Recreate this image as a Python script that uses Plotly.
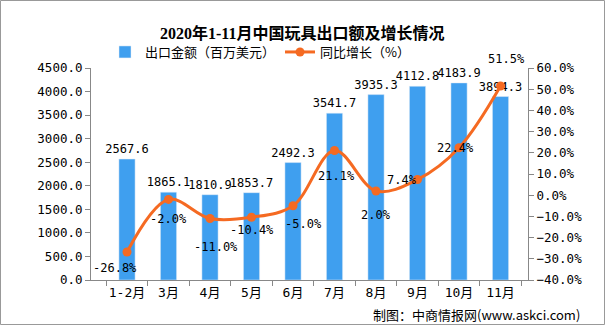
import plotly.graph_objects as go

months = ["1-2月", "3月", "4月", "5月", "6月", "7月", "8月", "9月", "10月", "11月"]
export_value = [2567.6, 1865.1, 1810.9, 1853.7, 2492.3, 3541.7, 3935.3, 4112.8, 4183.9, 3894.3]
growth = [-26.8, -2.0, -11.0, -10.4, -5.0, 21.1, 2.0, 7.4, 22.4, 51.5]
# label offsets (pixels) for the growth labels
label_dx = [-12, 0, 6, 0, 10, 2, 0, -16, -4, 6]
label_dy = [-16, -20, -28, -13, -18, -26, -24, 0, 0, 27]

BLUE = "#3F9FEF"
ORANGE = "#F56A22"
FONT = "DejaVu Sans Mono, Noto Sans CJK SC"

L, R, T, B = 91, 77, 68, 45
PW, PH = 605 - L - R, 325 - T - B

def px(x):
    return (x - L) / PW

def py(y):
    return (325 - B - y) / PH

fig = go.Figure()
fig.add_trace(go.Bar(
    x=months, y=export_value, name="出口金额（百万美元）",
    marker_color=BLUE, width=0.39,
    text=[f"{v:.1f}" for v in export_value], textposition="outside", constraintext="none",
    textfont=dict(size=12, color="#000", family=FONT), cliponaxis=False,
))
fig.add_trace(go.Scatter(
    x=months, y=growth, name="同比增长（%）", yaxis="y2",
    mode="lines+markers", line=dict(color=ORANGE, width=3, shape="spline", smoothing=1.0),
    marker=dict(color=ORANGE, size=9), cliponaxis=False,
))

for m, g, dx, dy in zip(months, growth, label_dx, label_dy):
    fig.add_annotation(x=m, y=g, xref="x", yref="y2", text=f"{g:.1f}%", showarrow=False,
                       xshift=dx, yshift=dy, font=dict(size=12, color="#000", family=FONT))

fig.add_annotation(x=px(302), y=py(22), xref="paper", yref="paper", showarrow=False,
                   text="<b>2020年1-11月中国玩具出口额及增长情况</b>",
                   font=dict(size=16, color="#000", family="Liberation Serif, Noto Sans CJK SC"))
fig.add_annotation(x=px(582), y=py(314), xref="paper", yref="paper", showarrow=False,
                   xanchor="right", yanchor="middle", text="制图：中商情报网(www.askci.com)",
                   font=dict(size=13, family="Noto Sans CJK SC", color="#000"))

fig.update_layout(
    width=605, height=325,
    margin=dict(l=L, r=R, t=T, b=B),
    paper_bgcolor="white", plot_bgcolor="white",
    showlegend=True,
    legend=dict(orientation="h", x=px(260), xanchor="center", y=py(52), yanchor="middle",
                font=dict(size=13, family="Noto Sans CJK SC", color="#000"),
                bgcolor="rgba(0,0,0,0)"),
    xaxis=dict(showline=True, linecolor="#888", linewidth=1, ticks="outside", tickson="boundaries",
               ticklen=5, tickcolor="#888", showgrid=False, tickangle=0,
               tickfont=dict(size=13, family=FONT, color="#000")),
    yaxis=dict(range=[0, 4500], dtick=500, tickformat=".1f", showline=True, linecolor="#888",
               ticks="outside", ticklen=5, tickcolor="#888", showgrid=False, zeroline=False,
               tickfont=dict(size=12.5, family=FONT, color="#000")),
    yaxis2=dict(range=[-40, 60], dtick=10, tickformat=".1f", ticksuffix="%", overlaying="y",
                side="right", showline=True, linecolor="#888", ticks="outside", ticklen=5,
                tickcolor="#888", showgrid=False, zeroline=False,
                tickfont=dict(size=12.5, family=FONT, color="#000")),
)

fig.add_shape(type="rect", xref="paper", yref="paper",
              x0=px(0.5), x1=px(604.5), y0=py(324.5), y1=py(0.5),
              line=dict(color="#999", width=1), fillcolor="rgba(0,0,0,0)", layer="below")

fig.write_html("out.html")
